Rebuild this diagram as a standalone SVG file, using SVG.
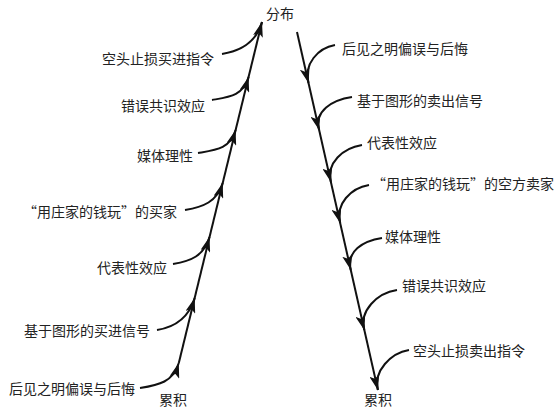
<svg xmlns="http://www.w3.org/2000/svg" width="560" height="412" viewBox="0 0 560 412">
<style>
text{font-family:"Noto Sans CJK SC","Noto Sans",sans-serif;font-size:14px;fill:#222}
.l{text-anchor:end}
.r{text-anchor:start}
.m{text-anchor:middle}
.main{stroke:#111;stroke-width:2;fill:none}
.c{stroke:#111;stroke-width:2;fill:none;marker-end:url(#ah)}
</style>
<defs>
<marker id="ah" viewBox="0 0 15 10" refX="15" refY="5" markerWidth="15" markerHeight="10" markerUnits="userSpaceOnUse" orient="auto">
<path d="M15,5 L0,0 L3.5,5 L0,10 Z" fill="#111"/>
</marker>
</defs>
<rect width="560" height="412" fill="#fff"/>
<g id="connectors">
<line class="main" x1="178.8" y1="363" x2="262" y2="22"/>
<line class="main" x1="297" y1="32" x2="377.9" y2="390"/>
<path class="c" d="M222,54 C241,51 256.4,42 262,22"/>
<path class="c" d="M212,100 C229,97 243,96 248.6,77"/>
<path class="c" d="M198,153 C216,150 230,149 235.6,130"/>
<path class="c" d="M185,210 C203,207 217,202 222.7,183"/>
<path class="c" d="M173,264 C191,261 204,256 209.5,237"/>
<path class="c" d="M157,330 C176,327 189,317 194.7,298"/>
<path class="c" d="M140,388 C159,385 173,382 178.8,363"/>
<path class="c" d="M335,45 C318,48 303.5,64 308.5,83"/>
<path class="c" d="M352,97 C332,100 314,111 319.1,130"/>
<path class="c" d="M362,145 C343,148 326,163 330.9,182"/>
<path class="c" d="M369,185 C351,188 335,204 340.2,223"/>
<path class="c" d="M382,238 C363,241 346,251 350.8,270"/>
<path class="c" d="M397,290 C377,293 359,311 364.3,330"/>
<path class="c" d="M409,350 C391,353 373,371 377.9,390"/>
</g>
<g id="top"><text class="m" x="280" y="19">分布</text></g>
<g id="acc-left"><text class="m" x="173" y="405">累积</text></g>
<g id="acc-right"><text class="m" x="378" y="405">累积</text></g>
<g id="L1"><text class="l" x="214" y="64">空头止损买进指令</text></g>
<g id="L2"><text class="l" x="205" y="111">错误共识效应</text></g>
<g id="L3"><text class="l" x="193" y="161">媒体理性</text></g>
<g id="L4"><text class="l" x="177" y="217">“用庄家的钱玩”的买家</text></g>
<g id="L5"><text class="l" x="167" y="273">代表性效应</text></g>
<g id="L6"><text class="l" x="150" y="336">基于图形的买进信号</text></g>
<g id="L7"><text class="l" x="135" y="394">后见之明偏误与后悔</text></g>
<g id="R1"><text class="r" x="342" y="54">后见之明偏误与后悔</text></g>
<g id="R2"><text class="r" x="357" y="106">基于图形的卖出信号</text></g>
<g id="R3"><text class="r" x="367" y="148">代表性效应</text></g>
<g id="R4"><text class="r" x="372" y="189">“用庄家的钱玩”的空方卖家</text></g>
<g id="R5"><text class="r" x="385" y="242">媒体理性</text></g>
<g id="R6"><text class="r" x="402" y="291">错误共识效应</text></g>
<g id="R7"><text class="r" x="413" y="356">空头止损卖出指令</text></g>
</svg>
